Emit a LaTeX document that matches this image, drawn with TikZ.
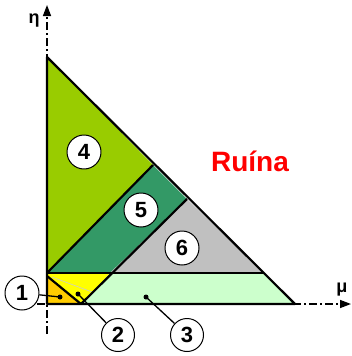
\documentclass[tikz,border=0pt]{standalone}
\usepackage{fontspec}
\setmainfont{Liberation Sans}
\usetikzlibrary{arrows.meta}
\definecolor{cfour}{HTML}{99CC00}
\definecolor{cfive}{HTML}{339966}
\definecolor{csix}{HTML}{C0C0C0}
\definecolor{cthree}{HTML}{CCFFCC}
\definecolor{ctwo}{HTML}{FFFF00}
\definecolor{cone}{HTML}{FFCC00}
\begin{document}
\begin{tikzpicture}[x=1pt,y=-1pt,line join=round,
  edge/.style={line width=2.2pt},
  num/.style={circle,draw,line width=1pt,fill=white,minimum size=34pt,inner sep=0pt,font=\bfseries\fontsize{22}{22}\selectfont},
  axisline/.style={line width=1.4pt,dash pattern=on 8pt off 3pt on 2pt off 3pt},
  leader/.style={line width=1.3pt},
  dotm/.style={circle,fill,inner sep=0pt,minimum size=5pt}]
\useasboundingbox (0,0) rectangle (352,356);
% key points
\coordinate (A) at (47,57);
\coordinate (O) at (47,304);
\coordinate (B) at (295,304);
\coordinate (P) at (47,273);
\coordinate (Q) at (263,273);
\coordinate (R) at (153,165);
\coordinate (S) at (187,199);
\coordinate (T) at (110,273);
\coordinate (U) at (81,304);
\coordinate (V) at (47,276);
% fills
\fill[cfour] (A) -- (R) -- (P) -- cycle;
\fill[cfive] (P) -- (R) -- (S) -- (T) -- cycle;
\fill[csix] (T) -- (S) -- (Q) -- cycle;
\fill[cthree] (U) -- (T) -- (Q) -- (B) -- cycle;
\fill[ctwo] (P) -- (T) -- (U) -- (V) -- cycle;
\fill[cone] (V) -- (O) -- (U) -- cycle;
\draw[line width=0.6pt,color=black!20] (52,277) -- (92,292);
% axes
\draw[axisline,-{Triangle[length=11pt,width=8pt]}] (47,334) -- (47,5);
\draw[axisline,-{Triangle[length=11pt,width=8pt]}] (37,304) -- (351,304);
\node[font=\bfseries\fontsize{18}{18}\selectfont] (eta) at (34,21) {η};
\node[font=\bfseries\fontsize{18}{18}\selectfont] (mu) at (342,290) {μ};
% edges
\draw[edge] (A) -- (B) -- (O) -- cycle;
\draw[edge] (P) -- (Q);
\draw[edge] (P) -- (R);
\draw[edge] (S) -- (U);
\draw[edge] (V) -- (U);
% label
\node[text=red,font=\bfseries\fontsize{28}{28}\selectfont] (ruina) at (250,161) {Ruína};
% numbered circles
\node[num] (c4) at (84,152) {4};
\node[num] (c5) at (141,210) {5};
\node[num] (c6) at (182,248) {6};
\node[num] (c1) at (22,293) {1};
\node[num,minimum size=33pt] (c2) at (118,335) {2};
\node[num,minimum size=33pt] (c3) at (187,335) {3};
% leaders
\node[dotm] (d1) at (60,297) {};
\node[dotm] (d2) at (78,294) {};
\node[dotm] (d3) at (146,297) {};
\draw[leader] (d1.center) -- (c1);
\draw[leader] (d2.center) -- (c2);
\draw[leader] (d3.center) -- (c3);
\end{tikzpicture}
\end{document}
